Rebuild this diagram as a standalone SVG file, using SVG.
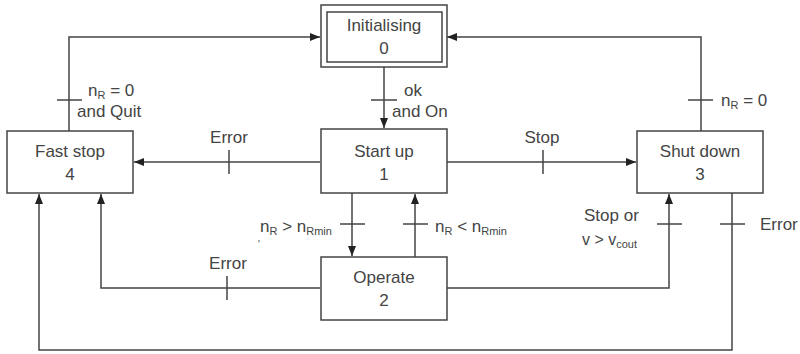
<svg xmlns="http://www.w3.org/2000/svg" width="800" height="354" viewBox="0 0 800 354">
<style>
.box{fill:#fff;stroke:#444;stroke-width:1.5}
.ln{fill:none;stroke:#444;stroke-width:1.5}
.tk{stroke:#444;stroke-width:1.5}
text{font-family:"Liberation Sans",Arial,sans-serif;font-size:17px;fill:#444}
.c{text-anchor:middle}
.sub{font-size:11px}
</style>
<defs>
<marker id="ah" viewBox="0 0 10 8" refX="10" refY="4" markerWidth="10" markerHeight="8" markerUnits="userSpaceOnUse" orient="auto">
<path d="M0,0L10,4L0,8z" fill="#222"/>
</marker>
</defs>
<g id="connectors">
<path class="ln" d="M69,131V37H320" marker-end="url(#ah)"/>
<line class="tk" x1="57" y1="100" x2="82" y2="100"/>
<path class="ln" d="M701,131V37H447" marker-end="url(#ah)"/>
<line class="tk" x1="688" y1="100" x2="713" y2="100"/>
<path class="ln" d="M384,67V128" marker-end="url(#ah)"/>
<line class="tk" x1="371" y1="100" x2="397" y2="100"/>
<path class="ln" d="M320,162H134" marker-end="url(#ah)"/>
<line class="tk" x1="229" y1="150" x2="229" y2="174"/>
<path class="ln" d="M447,162H636" marker-end="url(#ah)"/>
<line class="tk" x1="543" y1="150" x2="543" y2="174"/>
<path class="ln" d="M352,193V256" marker-end="url(#ah)"/>
<line class="tk" x1="340" y1="224" x2="365" y2="224"/>
<path class="ln" d="M415,257V194" marker-end="url(#ah)"/>
<line class="tk" x1="403" y1="224" x2="428" y2="224"/>
<path class="ln" d="M320,288H101V194" marker-end="url(#ah)"/>
<line class="tk" x1="227" y1="276" x2="227" y2="300"/>
<path class="ln" d="M447,288H669V194" marker-end="url(#ah)"/>
<line class="tk" x1="657" y1="224" x2="682" y2="224"/>
<path class="ln" d="M732,193V350H39V194" marker-end="url(#ah)"/>
<line class="tk" x1="720" y1="224" x2="745" y2="224"/>
</g>
<g id="labels">
<text x="88" y="96">n<tspan class="sub" dy="3">R</tspan><tspan dy="-3"> = 0</tspan></text>
<text x="77" y="117">and Quit</text>
<text x="721" y="106">n<tspan class="sub" dy="3">R</tspan><tspan dy="-3"> = 0</tspan></text>
<text x="404" y="96">ok</text>
<text x="392" y="117">and On</text>
<text class="c" x="229" y="143">Error</text>
<text class="c" x="542" y="143">Stop</text>
<text x="260" y="232">n<tspan class="sub" dy="3">R</tspan><tspan dy="-3"> &gt; n</tspan><tspan class="sub" dy="3">Rmin</tspan></text>
<text x="258" y="248" style="font-size:10px">'</text>
<text x="435" y="232">n<tspan class="sub" dy="3">R</tspan><tspan dy="-3"> &lt; n</tspan><tspan class="sub" dy="3">Rmin</tspan></text>
<text class="c" x="228" y="269">Error</text>
<text x="584" y="221">Stop or</text>
<text x="582" y="245" style="font-size:16px">v &gt; v<tspan class="sub" dy="3">cout</tspan></text>
<text x="760" y="230">Error</text>
</g>
<g id="n0">
<rect class="box" x="321" y="5" width="126" height="62"/>
<rect class="box" x="327" y="12" width="115" height="50"/>
<text class="c" x="384" y="31">Initialising</text>
<text class="c" x="384" y="54">0</text>
</g>
<g id="n1">
<rect class="box" x="321" y="129" width="126" height="64"/>
<text class="c" x="384" y="157">Start up</text>
<text class="c" x="384" y="180">1</text>
</g>
<g id="n4">
<rect class="box" x="7" y="131" width="126" height="62"/>
<text class="c" x="70" y="157">Fast stop</text>
<text class="c" x="70" y="180">4</text>
</g>
<g id="n3">
<rect class="box" x="637" y="131" width="126" height="62"/>
<text class="c" x="700" y="157">Shut down</text>
<text class="c" x="700" y="180">3</text>
</g>
<g id="n2">
<rect class="box" x="321" y="257" width="126" height="63"/>
<text class="c" x="384" y="283">Operate</text>
<text class="c" x="384" y="306">2</text>
</g>
</svg>
